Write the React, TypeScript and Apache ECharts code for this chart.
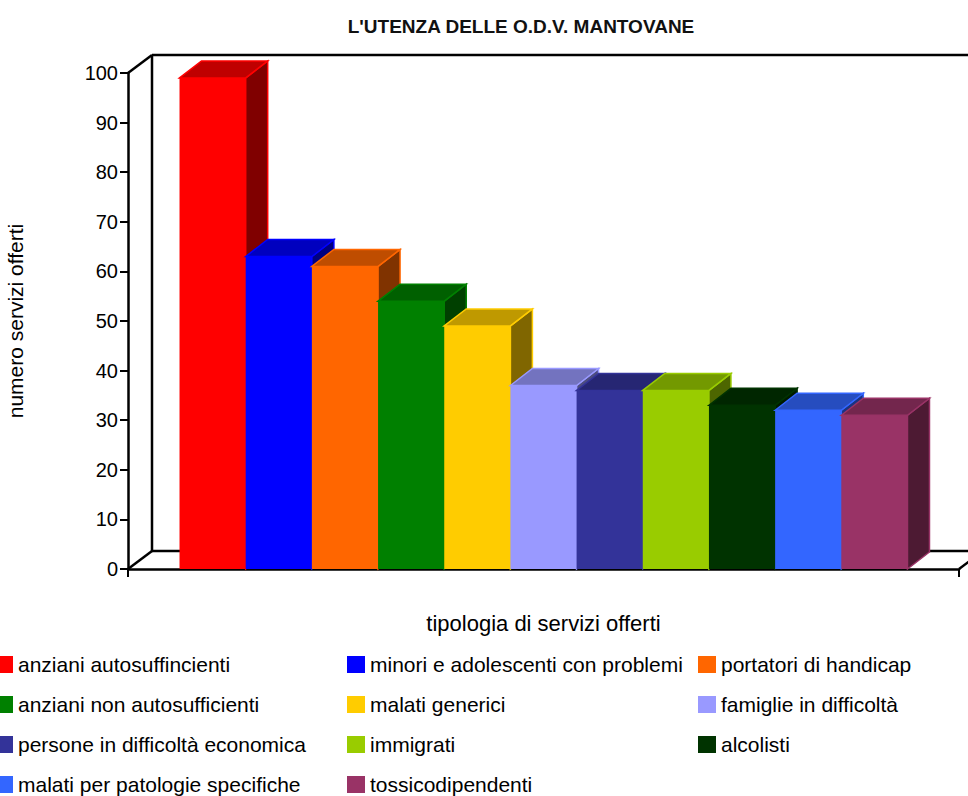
import React, { useEffect, useRef } from "react";
import * as echarts from "echarts";

const TITLE = "L'UTENZA DELLE O.D.V. MANTOVANE";
const Y_NAME = "numero servizi offerti";
const X_NAME = "tipologia di servizi offerti";

const seriesNames = [
  "anziani autosuffincienti",
  "minori e adolescenti con problemi",
  "portatori di handicap",
  "anziani non autosufficienti",
  "malati generici",
  "famiglie in difficoltà",
  "persone in difficoltà economica",
  "immigrati",
  "alcolisti",
  "malati per patologie specifiche",
  "tossicodipendenti",
];
const seriesValues = [99, 63, 61, 54, 49, 37, 36, 36, 33, 32, 31];
const seriesColors = [
  "#FF0000",
  "#0000FF",
  "#FF6600",
  "#008000",
  "#FFCC00",
  "#9999FF",
  "#333399",
  "#99CC00",
  "#003300",
  "#3366FF",
  "#993366",
];
const yTicks = { min: 0, max: 100, interval: 10 };

const FONT = '"Liberation Sans", Arial, sans-serif';

const BAR_DX = 22;
const BAR_DY = -17;
const WALL_DX = 24;
const WALL_DY = -18;
const GROUP_RATIO = 0.876;

const LEGEND_COL_X = [-5, 347, 698];
const LEGEND_ROW0_Y = 656;
const LEGEND_ROW_PITCH = 40;

function shade(hex: string, f: number): string {
  const n = parseInt(hex.slice(1), 16);
  const r = Math.round(((n >> 16) & 255) * f);
  const g = Math.round(((n >> 8) & 255) * f);
  const b = Math.round((n & 255) * f);
  return `rgb(${r},${g},${b})`;
}

export default function App() {
  const ref = useRef<HTMLDivElement>(null);
  useEffect(() => {
    if (!ref.current) return;
    const chart = echarts.init(ref.current, undefined, { renderer: "svg" });
    const N = seriesNames.length;

    const frameSeries: any = {
      type: "custom",
      name: "__frame",
      z: 1,
      silent: true,
      data: [[0, 0]],
      renderItem: (params: any) => {
        const cs = params.coordSys;
        const x = cs.x, y = cs.y, w = cs.width, h = cs.height;
        const ls = { stroke: "#000", lineWidth: 2.5, fill: "none" };
        const line = (x1: number, y1: number, x2: number, y2: number) => ({
          type: "line",
          shape: { x1, y1, x2, y2 },
          style: ls,
        });
        return {
          type: "group",
          children: [
            line(x + WALL_DX, y + WALL_DY, x + w + WALL_DX, y + WALL_DY),
            line(x + WALL_DX, y + WALL_DY, x + WALL_DX, y + h + WALL_DY),
            line(x + WALL_DX, y + h + WALL_DY, x + w + WALL_DX, y + h + WALL_DY),
            line(x + w + WALL_DX, y + WALL_DY, x + w + WALL_DX, y + h + WALL_DY),
            line(x, y, x + WALL_DX, y + WALL_DY),
            line(x, y + h, x + WALL_DX, y + h + WALL_DY),
            line(x + w, y + h, x + w + WALL_DX, y + h + WALL_DY),
          ],
        };
      },
    };

    const barSeries = seriesNames.map((name, idx) => {
      const color = seriesColors[idx];
      const topC = shade(color, 0.75);
      const sideC = shade(color, 0.5);
      return {
        type: "custom",
        name,
        z: 2,
        itemStyle: { color },
        data: [[0, seriesValues[idx]]],
        renderItem: (params: any, api: any) => {
          const v = api.value(1);
          const base = api.coord([0, 0]);
          const top = api.coord([0, v]);
          const band = api.size([1, 0])[0];
          const groupW = band * GROUP_RATIO;
          const bw = groupW / N;
          const x0 = base[0] - groupW / 2 + idx * bw;
          const x1 = x0 + bw;
          const yT = top[1];
          const yB = base[1];
          return {
            type: "group",
            children: [
              {
                type: "polygon",
                shape: {
                  points: [
                    [x1, yB],
                    [x1 + BAR_DX, yB + BAR_DY],
                    [x1 + BAR_DX, yT + BAR_DY],
                    [x1, yT],
                  ],
                },
                style: { fill: sideC, stroke: color, lineWidth: 1.5 },
              },
              {
                type: "polygon",
                shape: {
                  points: [
                    [x0, yT],
                    [x0 + BAR_DX, yT + BAR_DY],
                    [x1 + BAR_DX, yT + BAR_DY],
                    [x1, yT],
                  ],
                },
                style: { fill: topC, stroke: color, lineWidth: 1.5 },
              },
              {
                type: "rect",
                shape: { x: x0, y: yT, width: bw, height: yB - yT },
                style: { fill: color },
              },
            ],
          };
        },
      };
    });

    const legendText = { fontFamily: FONT, fontSize: 21, color: "#000" };
    const legends = seriesNames.map((name, i) => ({
      type: "plain",
      orient: "horizontal",
      left: LEGEND_COL_X[i % 3],
      top: LEGEND_ROW0_Y + Math.floor(i / 3) * LEGEND_ROW_PITCH - 2,
      padding: 0,
      itemWidth: 18,
      itemHeight: 17,
      icon: "rect",
      selectedMode: false,
      textStyle: legendText,
      data: [name],
    }));

    chart.setOption({
      animation: false,
      backgroundColor: "#fff",
      title: {
        text: TITLE,
        left: 516,
        top: 12,
        textAlign: "center",
        textStyle: { fontFamily: FONT, fontSize: 19, fontWeight: "bold", color: "#111" },
      },
      legend: legends,
      grid: {
        left: 128,
        right: 9,
        top: 73,
        bottom: 227,
        containLabel: false,
        outerBoundsMode: "none",
      },
      xAxis: {
        type: "category",
        data: [""],
        name: X_NAME,
        nameLocation: "middle",
        nameGap: 43,
        nameTextStyle: { fontFamily: FONT, fontSize: 22, color: "#000" },
        axisLine: { show: true, lineStyle: { color: "#000", width: 2.5 } },
        axisTick: { show: true, length: 8, lineStyle: { color: "#000", width: 2 } },
        axisLabel: { show: false },
        splitLine: { show: false },
      },
      yAxis: {
        type: "value",
        min: yTicks.min,
        max: yTicks.max,
        interval: yTicks.interval,
        name: Y_NAME,
        nameLocation: "middle",
        nameGap: 102,
        nameTextStyle: { fontFamily: FONT, fontSize: 21, color: "#000" },
        axisLine: { show: true, lineStyle: { color: "#000", width: 2.5 } },
        axisTick: { show: true, length: 8, lineStyle: { color: "#000", width: 2 } },
        axisLabel: { fontFamily: FONT, fontSize: 20, color: "#000", margin: 10 },
        splitLine: { show: false },
      },
      series: [frameSeries, ...barSeries],
    });
    return () => chart.dispose();
  }, []);
  return (
    <div
      ref={ref}
      style={{ position: "fixed", left: 0, top: 0, width: 968, height: 796 }}
    />
  );
}
